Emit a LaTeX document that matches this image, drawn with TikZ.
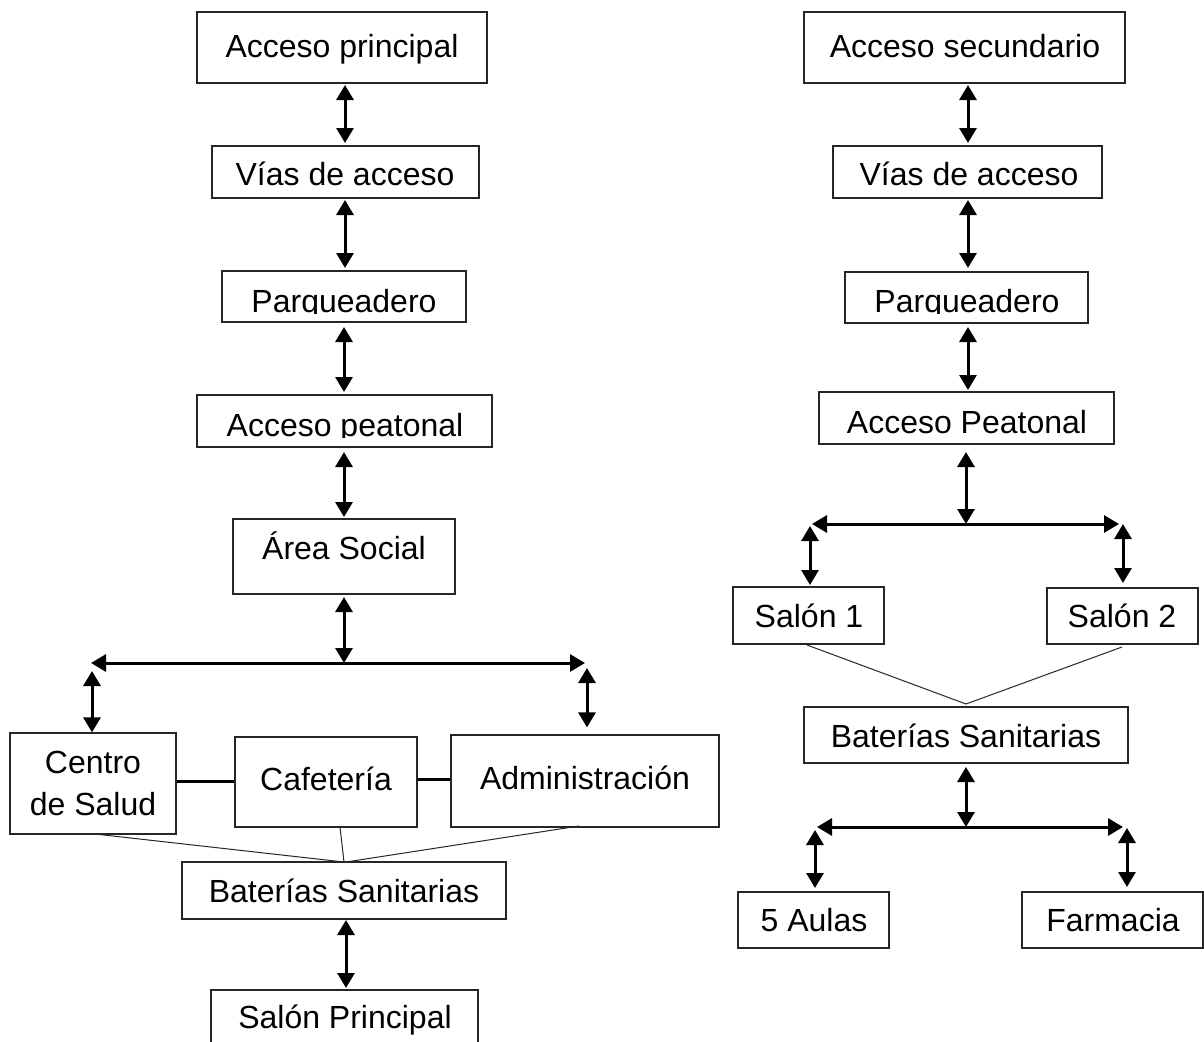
\documentclass[tikz,border=0pt]{standalone}
\usepackage{fontspec}
\setmainfont{Liberation Sans}
\usetikzlibrary{arrows.meta,fit}
\begin{document}
\begin{tikzpicture}[x=1pt,y=-1pt,
  box/.style={draw=black!85, line width=1.2pt, inner sep=0pt, rectangle},
  txt/.style={anchor=base, inner sep=0pt, font=\fontsize{32}{38}\selectfont, align=center},
  biarrow/.style={line width=3pt, {Triangle[length=15pt,width=17pt]}-{Triangle[length=15pt,width=17pt]}},
  thin/.style={line width=1pt, draw=black!85},
  thick/.style={line width=3pt}]
\clip (0,0) rectangle (1204,1041);
\fill[white] (0,0) rectangle (1204,1041);

% ---------- left column boxes ----------
\node[box, fit={(197,12) (487,83)}] (l1) {};
\node[txt] (l1t) at (342,57) {Acceso principal};
\node[box, fit={(212,146) (479,198)}] (l2) {};
\node[txt] (l2t) at (345,185) {Vías de acceso};
\node[box, fit={(222,271) (466,322)}] (l3) {};
\begin{scope}
\clip (222,271) rectangle (466,313);
\node[txt] (l3t) at (344,312) {Parqueadero};
\end{scope}
\node[box, fit={(197,395) (492,447)}] (l4) {};
\begin{scope}
\clip (197,395) rectangle (492,437.5);
\node[txt] (l4t) at (345,436) {Acceso peatonal};
\end{scope}
\node[box, fit={(233,519) (455,594)}] (l5) {};
\node[txt] (l5t) at (344,559) {Área Social};

\node[box, fit={(10,733) (176,834)}] (cs) {};
\node[txt] (cst1) at (93,773) {Centro};
\node[txt] (cst2) at (93,815) {de Salud};
\node[box, fit={(235,737) (417,827)}] (caf) {};
\node[txt] (caft) at (326,790) {Cafetería};
\node[box, fit={(451,735) (719,827)}] (adm) {};
\node[txt] (admt) at (585,789) {Administración};
\node[box, fit={(182,862) (506,919)}] (batl) {};
\node[txt] (batlt) at (344,902) {Baterías Sanitarias};
\node[box, fit={(211,990) (478,1060)}] (salp) {};
\node[txt] (salpt) at (345,1028) {Salón Principal};

% ---------- right column boxes ----------
\node[box, fit={(804,12) (1125,83)}] (r1) {};
\node[txt] (r1t) at (965,57) {Acceso secundario};
\node[box, fit={(833,146) (1102,198)}] (r2) {};
\node[txt] (r2t) at (969,185) {Vías de acceso};
\node[box, fit={(845,272) (1088,323)}] (r3) {};
\begin{scope}
\clip (845,272) rectangle (1088,313);
\node[txt] (r3t) at (967,312) {Parqueadero};
\end{scope}
\node[box, fit={(819,392) (1114,444)}] (r4) {};
\node[txt] (r4t) at (967,433) {Acceso Peatonal};
\node[box, fit={(733,587) (884,644)}] (s1) {};
\node[txt] (s1t) at (809,627) {Salón 1};
\node[box, fit={(1047,588) (1198,644)}] (s2) {};
\node[txt] (s2t) at (1122,627) {Salón 2};
\node[box, fit={(804,707) (1128,763)}] (batr) {};
\node[txt] (batrt) at (966,747) {Baterías Sanitarias};
\node[box, fit={(738,892) (889,948)}] (aulas) {};
\node[txt] (aulast) at (814,931) {5 Aulas};
\node[box, fit={(1022,892) (1203,948)}] (farm) {};
\node[txt] (farmt) at (1113,931) {Farmacia};

% ---------- coordinates ----------
\coordinate (hJ) at (344,663);
\coordinate (hL) at (91,663);
\coordinate (hR) at (585,663);
\coordinate (vL) at (92,671);
\coordinate (vR) at (587,668);
\coordinate (mJ) at (344,862);

\coordinate (rJ) at (966,524);
\coordinate (rL) at (812,524);
\coordinate (rR) at (1119,524);
\coordinate (rvL) at (810,526);
\coordinate (rvR) at (1123,524);
\coordinate (sJ) at (966,704);
\coordinate (qJ) at (966,827);
\coordinate (qL) at (817,827);
\coordinate (qR) at (1123,827);
\coordinate (qvL) at (815,830);
\coordinate (qvR) at (1127,828);

% ---------- left connectors ----------
\draw[biarrow] (345,85) -- (345,143);
\draw[biarrow] (345,200) -- (345,268);
\draw[biarrow] (344,327) -- (344,392);
\draw[biarrow] (344,452) -- (344,517);
\draw[biarrow] (344,597) -- (hJ);
\draw[biarrow] (hL) -- (hR);
\draw[biarrow] (vL) -- (vL |- cs.north);
\draw[biarrow] (vR) -- ([yshift=7pt]vR |- adm.north);
\draw[thick] (cs.east |- 0,781) -- (caf.west |- 0,781);
\draw[thick] (caf.east |- 0,779) -- (adm.west |- 0,779);
\draw[thin] (95,834) -- (mJ);
\draw[thin] (340,827) -- (mJ);
\draw[thin] (579,826) -- (346,862);
\draw[biarrow] (346,920) -- (346,988);

% ---------- right connectors ----------
\draw[biarrow] (968,85) -- (968,143);
\draw[biarrow] (968,200) -- (968,268);
\draw[biarrow] (968,327) -- (968,390);
\draw[biarrow] (966,452) -- (rJ);
\draw[biarrow] (rL) -- (rR);
\draw[biarrow] (rvL) -- (810,585);
\draw[biarrow] (rvR) -- (1123,583);
\draw[thin] (807,645) -- (sJ);
\draw[thin] (1122,647) -- (sJ);
\draw[biarrow] (966,767) -- (qJ);
\draw[biarrow] (qL) -- (qR);
\draw[biarrow] (qvL) -- (815,888);
\draw[biarrow] (qvR) -- (1127,887);
\end{tikzpicture}
\end{document}
